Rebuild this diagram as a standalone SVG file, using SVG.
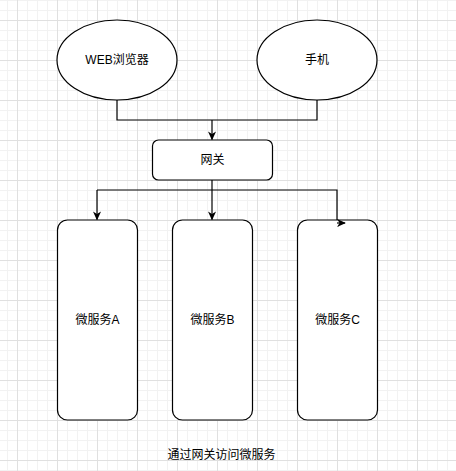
<svg xmlns="http://www.w3.org/2000/svg" width="456" height="471" viewBox="0 0 456 471">
<style>
.shape{fill:#fff;stroke:#000;stroke-width:1.2}
.lbl{font-family:"Liberation Sans","Noto Sans CJK SC",sans-serif;font-size:12px;fill:#000;text-anchor:middle;dominant-baseline:central}
.conn{fill:none;stroke:#000;stroke-width:1.2}
</style>
<defs>
<pattern id="minor" width="10" height="10" patternUnits="userSpaceOnUse" x="7" y="0">
<path d="M0,0.5 H10 M0.5,0 V10" fill="none" stroke="#f2f2f2" stroke-width="1"/>
</pattern>
<pattern id="major" width="40" height="40" patternUnits="userSpaceOnUse" x="17" y="20">
<path d="M0,0.5 H40 M0.5,0 V40" fill="none" stroke="#e0e0e0" stroke-width="1"/>
</pattern>
<marker id="arr" viewBox="0 0 10 10" refX="9" refY="5" markerWidth="9" markerHeight="9" orient="auto" markerUnits="userSpaceOnUse">
<path d="M0,0.5 L10,5 L0,9.5 L3,5 Z" fill="#000"/>
</marker>
</defs>
<rect width="456" height="471" fill="#fff"/>
<rect width="456" height="471" fill="url(#minor)"/>
<rect width="456" height="471" fill="url(#major)"/>
<g id="web"><ellipse class="shape" cx="117" cy="60" rx="60" ry="40"/><text class="lbl" x="117" y="60">WEB浏览器</text></g>
<g id="phone"><ellipse class="shape" cx="317" cy="60" rx="60" ry="40"/><text class="lbl" x="317" y="60">手机</text></g>
<g id="gateway"><rect class="shape" x="152.5" y="140" width="120" height="40" rx="6"/><text class="lbl" x="212.5" y="160">网关</text></g>
<g id="svcA"><rect class="shape" x="57.5" y="220" width="80" height="200" rx="10"/><text class="lbl" x="97.5" y="320">微服务A</text></g>
<g id="svcB"><rect class="shape" x="172.5" y="220" width="80" height="200" rx="10"/><text class="lbl" x="212.5" y="320">微服务B</text></g>
<g id="svcC"><rect class="shape" x="297.5" y="220" width="80" height="200" rx="10"/><text class="lbl" x="337.5" y="320">微服务C</text></g>
<g id="caption"><text class="lbl" x="221.5" y="455">通过网关访问微服务</text></g>
<g id="connectors">
<path class="conn" d="M117,100 V120 H317 V100"/>
<path class="conn" d="M212,120 V139.5" marker-end="url(#arr)"/>
<path class="conn" d="M212,180 V219.5" marker-end="url(#arr)"/>
<path class="conn" d="M97,190 H337 V220"/>
<path class="conn" d="M97,190 V219.5" marker-end="url(#arr)"/>
<path class="conn" d="M337,223 H345" marker-end="url(#arr)"/>
</g>
</svg>
